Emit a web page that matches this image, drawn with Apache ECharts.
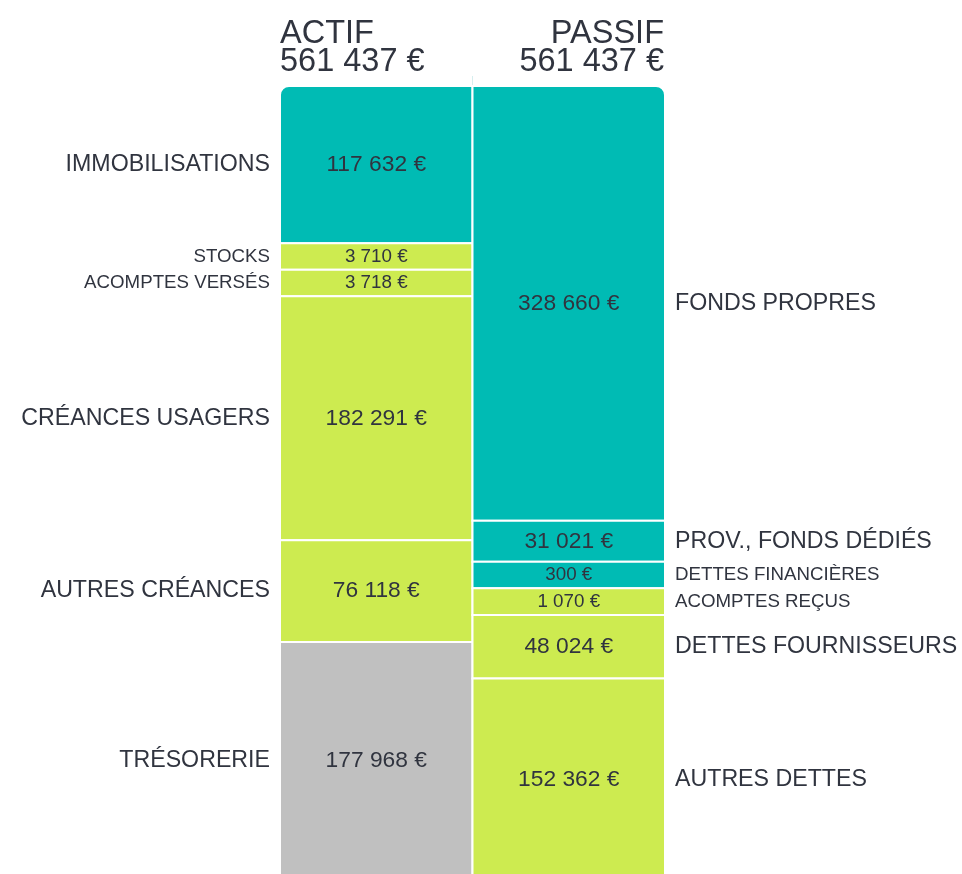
<!DOCTYPE html>
<html><head><meta charset="utf-8">
<script src="https://cdn.jsdelivr.net/npm/echarts@6/dist/echarts.min.js"></script>
<style>html,body{margin:0;padding:0;background:#fff}#c{width:962px;height:874px}</style>
</head><body><div id="c"></div>
<script>
// ---- data ----
const columns = ['ACTIF', 'PASSIF'];
const actifLabels = ['IMMOBILISATIONS', 'STOCKS', 'ACOMPTES VERSÉS', 'CRÉANCES USAGERS', 'AUTRES CRÉANCES', 'TRÉSORERIE'];
const actifValues = [117632, 3710, 3718, 182291, 76118, 177968];
const passifLabels = ['FONDS PROPRES', 'PROV., FONDS DÉDIÉS', 'DETTES FINANCIÈRES', 'ACOMPTES REÇUS', 'DETTES FOURNISSEURS', 'AUTRES DETTES'];
const passifValues = [328660, 31021, 300, 1070, 48024, 152362];

// ---- style ----
const TEAL = '#00BBB4', LIME = '#CDEB50', GREY = '#C0C0C0', TEXT = '#30343f';
const actifColors = [TEAL, LIME, LIME, LIME, LIME, GREY];
const passifColors = [TEAL, TEAL, TEAL, LIME, LIME, LIME];
const FONT = 'Arial, "Liberation Sans", sans-serif';
const MIN_SHARE = 0.0334;

function fmt(v) { return String(v).replace(/\B(?=(\d{3})+(?!\d))/g, ' ') + ' €'; }
function sum(a) { return a.reduce((x, y) => x + y, 0); }

function layoutColumn(values, col) {
  const total = sum(values);
  const small = values.map(v => v / total < MIN_SHARE);
  const nSmall = small.filter(Boolean).length;
  const bigSum = values.reduce((a, v, i) => a + (small[i] ? 0 : v), 0);
  const rest = 1 - nSmall * MIN_SHARE;
  let acc = 0;
  return values.map((v, i) => {
    const h = small[i] ? MIN_SHARE : v / bigSum * rest;
    const s = acc; acc += h;
    return [col, s, acc, v, small[i] ? 1 : 0, i];
  });
}

const data = layoutColumn(actifValues, 0).concat(layoutColumn(passifValues, 1));

function renderItem(params, api) {
  const col = api.value(0), s = api.value(1), e = api.value(2), v = api.value(3), small = api.value(4), idx = api.value(5);
  const bw = api.size([1, 0])[0];
  const c0 = api.coord([col, s]);
  const c1 = api.coord([col, e]);
  const x = c0[0] - bw / 2, y = Math.min(c0[1], c1[1]), h = Math.abs(c1[1] - c0[1]);
  const r = idx === 0 ? (col === 0 ? [9, 0, 0, 0] : [0, 9, 0, 0]) : 0;
  const name = col === 0 ? actifLabels[idx] : passifLabels[idx];
  const color = col === 0 ? actifColors[idx] : passifColors[idx];
  const vfs = small ? 18.8 : 22.8;
  const lfs = small ? 18.7 : 23.2;
  return {
    type: 'group',
    children: [
      { type: 'rect', shape: { x: x, y: y, width: bw, height: h, r: r }, style: { fill: color, stroke: '#fff', lineWidth: 2 } },
      { type: 'text', style: { x: x + bw / 2, y: y + h / 2, text: fmt(v), align: 'center', verticalAlign: 'middle', fill: TEXT, fontSize: vfs, fontFamily: FONT } },
      { type: 'text', style: { x: col === 0 ? x - 10 : x + bw + 10, y: y + h / 2, text: name, align: col === 0 ? 'right' : 'left', verticalAlign: 'middle', fill: TEXT, fontSize: lfs, fontFamily: FONT } }
    ]
  };
}

const chart = echarts.init(document.getElementById('c'), null, { renderer: 'canvas' });
chart.setOption({
  animation: false,
  backgroundColor: '#fff',
  title: [
    { text: columns[0] + '\n' + fmt(sum(actifValues)), left: 280, top: 20, padding: 0, textAlign: 'left',
      textStyle: { fontSize: 32.5, lineHeight: 28, color: TEXT, fontWeight: 'normal', fontFamily: FONT, align: 'left' } },
    { text: columns[1] + '\n' + fmt(sum(passifValues)), left: 664, top: 20, padding: 0, textAlign: 'right',
      textStyle: { fontSize: 32.5, lineHeight: 28, color: TEXT, fontWeight: 'normal', fontFamily: FONT, align: 'right' } }
  ],
  grid: { left: 280, top: 86, width: 385, height: 794, outerBoundsMode: 'none', containLabel: false },
  xAxis: { type: 'category', data: columns, show: false, boundaryGap: true },
  yAxis: { type: 'value', min: 0, max: 1, inverse: true, show: false },
  series: [{
    type: 'custom',
    renderItem: renderItem,
    encode: { x: 0, y: [1, 2] },
    data: data,
    clip: false
  }]
});

// thin divider above the columns, placed from the axis scale
const xL = chart.convertToPixel({ xAxisIndex: 0 }, 0);
const xR = chart.convertToPixel({ xAxisIndex: 0 }, 1);
const xm = (xL + xR) / 2;
const yTop = chart.convertToPixel({ yAxisIndex: 0 }, 0);
chart.setOption({
  graphic: [{ type: 'line', shape: { x1: xm, y1: yTop - 10, x2: xm, y2: yTop }, style: { stroke: '#d6eeee', lineWidth: 1 } }]
});
</script>
</body></html>
